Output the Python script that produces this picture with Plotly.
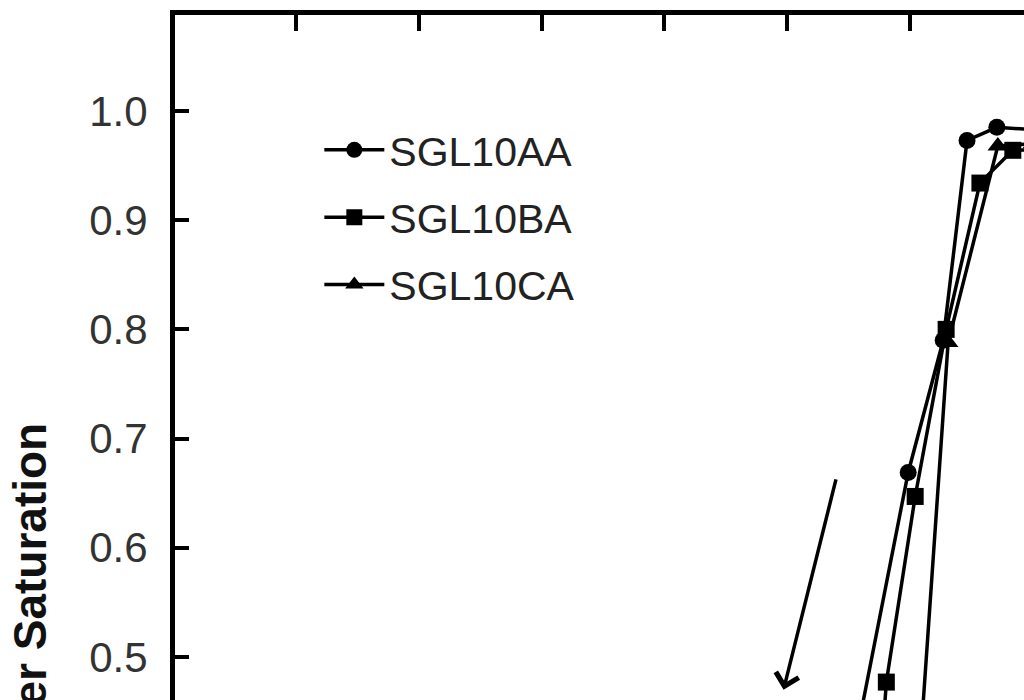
import plotly.graph_objects as go

# ---- data (axis units of x are not visible in the crop) ----
series_names = ["SGL10AA", "SGL10BA", "SGL10CA"]

aa_x = [5.34, 5.985, 6.27, 6.464, 6.707, 7.0]
aa_y = [0.300, 0.669, 0.790, 0.973, 0.985, 0.983]

ba_x = [5.74, 5.807, 6.042, 6.294, 6.569, 6.837, 7.1]
ba_y = [0.369, 0.477, 0.647, 0.800, 0.934, 0.964, 0.965]

ca_x = [6.01, 6.31, 6.715, 7.0]
ca_y = [0.300, 0.788, 0.968, 0.970]

arrow_head = (4.97, 0.470)
arrow_tail = (5.40, 0.664)

y_ticks = [0.5, 0.6, 0.7, 0.8, 0.9, 1.0]
x_ticks = [1, 2, 3, 4, 5, 6]
y_title = "Water Saturation"

FONT = "Liberation Sans, Arial, sans-serif"

fig = go.Figure()
specs = [
    (aa_x, aa_y, "circle", 17),
    (ba_x, ba_y, "square", 17),
    (ca_x, ca_y, "triangle-up", 18),
]
for name, (xs, ys, sym, sz) in zip(series_names, specs):
    fig.add_trace(go.Scatter(
        x=xs, y=ys, name=name, mode="lines+markers",
        legendgroup=name,
        line=dict(color="black", width=3.5),
        marker=dict(symbol=sym, size=sz, color="black"),
    ))

fig.add_annotation(
    x=arrow_head[0], y=arrow_head[1], ax=arrow_tail[0], ay=arrow_tail[1],
    xref="x", yref="y", axref="x", ayref="y",
    text="", showarrow=True, arrowhead=4, arrowwidth=3.5, arrowsize=1.3,
    arrowcolor="black",
)

fig.add_annotation(
    text="<b>" + y_title + "</b>", textangle=-90,
    xref="paper", yref="paper", x=-0.1708, y=0.137,
    xanchor="center", yanchor="middle",
    showarrow=False, font=dict(family=FONT, size=46, color="#111"),
)

fig.update_layout(
    width=1024, height=700,
    margin=dict(l=175, r=0, t=15, b=0),
    paper_bgcolor="white", plot_bgcolor="white",
    showlegend=True,
    legend=dict(
        x=0.170, y=0.8515, xanchor="left", yanchor="top",
        font=dict(family=FONT, size=41, color="#222"),
        bgcolor="rgba(0,0,0,0)", traceorder="grouped", tracegroupgap=11,
        itemwidth=60,
    ),
    xaxis=dict(
        range=[0.0147, 6.928], side="top", showgrid=False, zeroline=False,
        showline=True, linecolor="black", linewidth=5,
        ticks="inside", ticklen=16, tickwidth=4, tickcolor="black",
        tickvals=x_ticks, showticklabels=False,
    ),
    yaxis=dict(
        range=[0.4606, 1.0879], showgrid=False, zeroline=False,
        showline=True, linecolor="black", linewidth=5,
        ticks="inside", ticklen=14, tickwidth=4, tickcolor="black",
        tickvals=y_ticks, tickformat=".1f", ticklabelstandoff=14,
        tickfont=dict(family=FONT, size=42, color="#333"),
    ),
)

fig.write_html(
    "out.html",
    config={"displayModeBar": False},
    post_script="document.body.style.margin='0';document.body.style.overflow='hidden';",
)
